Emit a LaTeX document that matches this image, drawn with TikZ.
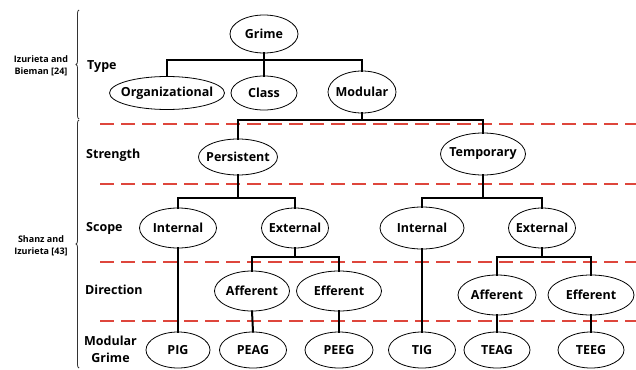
\documentclass[tikz,border=0pt]{standalone}
\usepackage{fontspec}
\setmainfont{Open Sans}
\usetikzlibrary{shapes.geometric,decorations.pathreplacing}
\definecolor{dashred}{RGB}{222,70,60}
\begin{document}
\begin{tikzpicture}[x=1pt,y=-1pt,
  el/.style={draw, ellipse, line width=0.8pt, inner sep=-25pt, font=\fontsize{12.5}{14}\selectfont\bfseries},
  tree/.style={line width=2pt, line cap=rect},
  sep/.style={dashred, line width=1.3pt, dash pattern=on 14pt off 7pt},
  lvl/.style={anchor=west, font=\fontsize{12.5}{17}\selectfont\bfseries, align=center, inner sep=0pt},
  ref/.style={font=\fontsize{9}{12.5}\selectfont\bfseries, align=center, inner sep=0pt},
  brc/.style={decorate, decoration={brace, amplitude=3pt}, line width=0.8pt, black!80}]
\useasboundingbox (0,0) rectangle (636,369);

% separators
\draw[sep] (100,124) -- (636,124);
\draw[sep] (100,184) -- (636,184);
\draw[sep] (100,262) -- (636,262);
\draw[sep] (100,321) -- (636,321);

% bar levels
\coordinate (b1) at (0,60);
\coordinate (b2) at (0,120);
\coordinate (b3) at (0,198);
\coordinate (b4) at (0,257);

% nodes
\node[el, minimum width=68pt, minimum height=38pt] (grime) at (264,34) {Grime};
\node[el, minimum width=115pt, minimum height=33pt] (org) at (167,93) {Organizational};
\node[el, minimum width=66pt, minimum height=34pt] (class) at (264,93) {Class};
\node[el, minimum width=68pt, minimum height=42pt] (modular) at (362,92) {Modular};
\node[el, minimum width=79pt, minimum height=36pt] (pers) at (238,157) {Persistent};
\node[el, minimum width=85pt, minimum height=42pt] (temp) at (483,154) {Temporary};
\node[el, minimum width=77pt, minimum height=40pt] (intP) at (178,228) {Internal};
\node[el, minimum width=67pt, minimum height=40pt] (extP) at (295,228) {External};
\node[el, minimum width=84pt, minimum height=42pt] (intT) at (422,228) {Internal};
\node[el, minimum width=67pt, minimum height=40pt] (extT) at (542,228) {External};
\node[el, minimum width=75pt, minimum height=40pt] (affP) at (252,291) {Afferent};
\node[el, minimum width=85pt, minimum height=40pt] (effP) at (339,291) {Efferent};
\node[el, minimum width=78pt, minimum height=40pt] (affT) at (497,295) {Afferent};
\node[el, minimum width=86pt, minimum height=40pt] (effT) at (591,295) {Efferent};
\node[el, minimum width=64pt, minimum height=36pt] (pig) at (178,350) {PIG};
\node[el, minimum width=67pt, minimum height=36pt] (peag) at (253,350) {PEAG};
\node[el, minimum width=68pt, minimum height=36pt] (peeg) at (339,350) {PEEG};
\node[el, minimum width=67pt, minimum height=36pt] (tig) at (422,350) {TIG};
\node[el, minimum width=66pt, minimum height=36pt] (teag) at (497,350) {TEAG};
\node[el, minimum width=66pt, minimum height=36pt] (teeg) at (591,350) {TEEG};

% tree connectors
\draw[tree] (grime.south) -- (grime.south |- b1) -| (org.north);
\draw[tree] (grime.south) -- (grime.south |- b1) -| (class.north);
\draw[tree] (grime.south) -- (grime.south |- b1) -| (modular.north);
\draw[tree] (modular.south) -- (modular.south |- b2) -| (pers.north);
\draw[tree] (modular.south) -- (modular.south |- b2) -| (temp.north);
\draw[tree] (pers.south) -- (pers.south |- b3) -| (intP.north);
\draw[tree] (pers.south) -- (pers.south |- b3) -| (extP.north);
\draw[tree] (temp.south) -- (temp.south |- b3) -| (intT.north);
\draw[tree] (temp.south) -- (temp.south |- b3) -| (extT.north);
\draw[tree] (extP.south) -- (extP.south |- b4) -| (affP.north);
\draw[tree] (extP.south) -- (extP.south |- b4) -| (effP.north);
\draw[tree] (extT.south) -- (extT.south |- b4) -| (affT.north);
\draw[tree] (extT.south) -- (extT.south |- b4) -| (effT.north);
\draw[tree] (intP.south) -- (pig.north);
\draw[tree] (intT.south) -- (tig.north);
\draw[tree] (affP.south) -- (peag.north);
\draw[tree] (effP.south) -- (peeg.north);
\draw[tree] (affT.south) -- (teag.north);
\draw[tree] (effT.south) -- (teeg.north);

% level labels
\node[lvl] (ltype) at (87,67) {Type};
\node[lvl] (lstr) at (86,155) {Strength};
\node[lvl] (lscope) at (86,228) {Scope};
\node[lvl] (ldir) at (85,290) {Direction};
\node[lvl] (lmod) at (84,349) {Modular\\Grime};

% references and braces
\coordinate (br1a) at (79,119);
\coordinate (br1b) at (79,10);
\coordinate (br2a) at (79,368);
\coordinate (br2b) at (79,120);
\draw[brc] (br1a) -- (br1b);
\draw[brc] (br2a) -- (br2b);
\node[ref] (r1) at (41,66) {Izurieta and\\Bieman [24]};
\node[ref] (r2) at (41,246) {Shanz and\\Izurieta [43]};
\end{tikzpicture}
\end{document}
